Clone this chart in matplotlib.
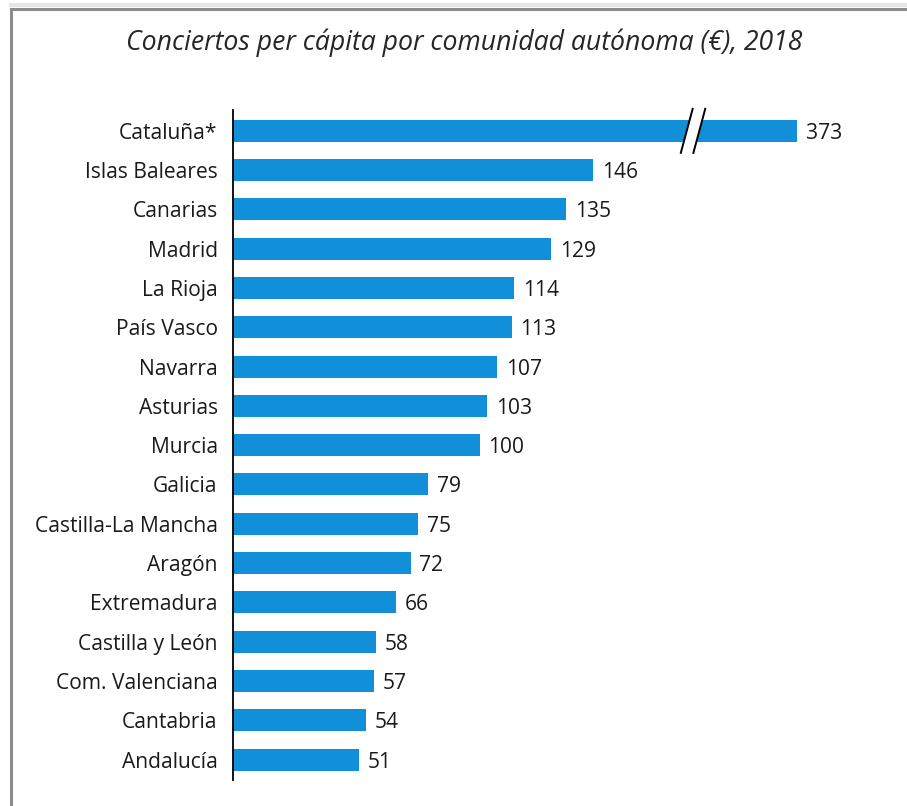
import matplotlib
matplotlib.use("Agg")
import matplotlib.pyplot as plt
from matplotlib.patches import Polygon
from matplotlib.lines import Line2D

categories = ["Cataluña*", "Islas Baleares", "Canarias", "Madrid", "La Rioja",
              "País Vasco", "Navarra", "Asturias", "Murcia", "Galicia",
              "Castilla-La Mancha", "Aragón", "Extremadura", "Castilla y León",
              "Com. Valenciana", "Cantabria", "Andalucía"]
values = [373, 146, 135, 129, 114, 113, 107, 103, 100, 79, 75, 72, 66, 58, 57, 54, 51]
title = "Conciertos per cápita por comunidad autónoma (€), 2018"

# axis break: values beyond this are drawn truncated
break_display = 228.7
break_at = 184

plt.rcParams['font.family'] = ['Open Sans', 'DejaVu Sans']

W, H = 907, 806
fig = plt.figure(figsize=(W / 100, H / 100), dpi=100)

# figure border (left and top visible)
fig.add_artist(Line2D([10.5 / W, 10.5 / W], [0, 1 - 9 / H], transform=fig.transFigure,
                      color="#8c8c8c", lw=2.2))
fig.add_artist(Line2D([10.5 / W, 1], [1 - 9 / H, 1 - 9 / H], transform=fig.transFigure,
                      color="#8c8c8c", lw=2.2))
fig.add_artist(Line2D([10.5 / W, 1], [1 - 5 / H, 1 - 5 / H], transform=fig.transFigure,
                      color="#e6e6e6", lw=3))

ax = fig.add_axes([233 / W, 26 / H, (616.5) / W, (780 - 110) / H])
ypos = list(range(len(categories)))
disp = [min(v, break_display) for v in values]
color = "#118FD8"
ax.barh(ypos, disp, height=0.56, color=color)
ax.set_xlim(0, 250)
ax.set_ylim(16.52, -0.53)
ax.set_yticks(ypos)
ax.set_yticklabels(categories, fontsize=15.1, color="#1a1a1a")
ax.tick_params(axis="y", length=0, pad=11)
ax.set_xticks([])
for s in ["top", "right", "bottom"]:
    ax.spines[s].set_visible(False)
ax.spines["left"].set_linewidth(1.3)
ax.spines["left"].set_color("#000000")

for y, v, d in zip(ypos, values, disp):
    ax.text(d + 3.6, y, str(v), va="center_baseline", ha="left", fontsize=15.1, color="#1a1a1a")

# break marks on the truncated bar
for y, v in zip(ypos, values):
    if v > break_display:
        dx = 2.4
        h = 0.56
        gap = 5.1
        x0 = break_at
        poly = Polygon([(x0 - dx, y + h), (x0 + dx, y - h), (x0 + dx + gap, y - h),
                        (x0 - dx + gap, y + h)], closed=True, facecolor="white",
                       edgecolor="none", zorder=3, clip_on=False)
        ax.add_patch(poly)
        ax.plot([x0 - dx, x0 + dx], [y + h, y - h], color="black", lw=1.4, zorder=4, clip_on=False)
        ax.plot([x0 - dx + gap, x0 + dx + gap], [y + h, y - h], color="black", lw=1.4, zorder=4, clip_on=False)

fig.text(464 / W, 1 - 43 / H, title, ha="center", va="center", fontsize=19.2,
         style="italic", color="#262626")

fig.savefig("out.png", dpi=100, facecolor="white")
